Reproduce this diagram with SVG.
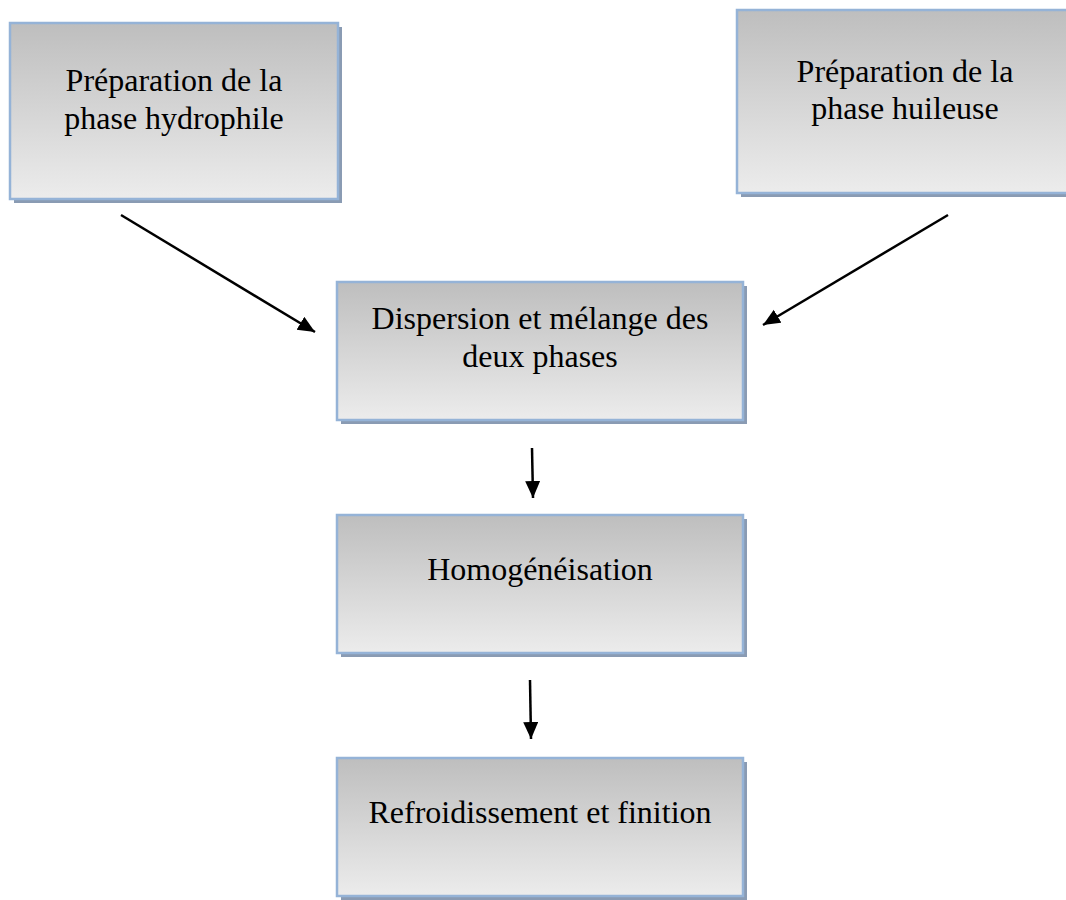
<svg xmlns="http://www.w3.org/2000/svg" width="1066" height="900" viewBox="0 0 1066 900">
  <style>
    .box { fill: url(#boxFill); stroke: #95b3d7; stroke-width: 2.5; }
    .shadow { fill: #8a9bb3; }
    .label { font-family: "Liberation Serif", "Times New Roman", serif; font-size: 32px; fill: #000; text-anchor: middle; }
    .link { stroke: #000; stroke-width: 2.5; fill: none; marker-end: url(#arrowHead); }
  </style>
  <defs>
    <linearGradient id="boxFill" x1="0" y1="0" x2="0" y2="1">
      <stop offset="0" stop-color="#bebebe"/>
      <stop offset="1" stop-color="#ececec"/>
    </linearGradient>
    <marker id="arrowHead" markerUnits="userSpaceOnUse" markerWidth="18" markerHeight="16" refX="17" refY="7.5" orient="auto">
      <path d="M0,0 L17,7.5 L0,15 Z" fill="#000"/>
    </marker>
  </defs>
  <rect width="1066" height="900" fill="#fff"/>

  <g id="hydrophile">
    <rect class="shadow" x="14" y="27" width="328" height="176"/>
    <rect class="box" x="10" y="23" width="328" height="176"/>
    <text class="label" x="174" y="91">Préparation de la</text>
    <text class="label" x="174" y="129">phase hydrophile</text>
  </g>

  <g id="huileuse">
    <rect class="shadow" x="741" y="14" width="336" height="183"/>
    <rect class="box" x="737" y="10" width="336" height="183"/>
    <text class="label" x="905" y="82">Préparation de la</text>
    <text class="label" x="905" y="119">phase huileuse</text>
  </g>

  <g id="dispersion">
    <rect class="shadow" x="341" y="286" width="406" height="138"/>
    <rect class="box" x="337" y="282" width="406" height="138"/>
    <text class="label" x="540" y="329">Dispersion et mélange des</text>
    <text class="label" x="540" y="367">deux phases</text>
  </g>

  <g id="homogeneisation">
    <rect class="shadow" x="341" y="519" width="406" height="138"/>
    <rect class="box" x="337" y="515" width="406" height="138"/>
    <text class="label" x="540" y="580">Homogénéisation</text>
  </g>

  <g id="refroidissement">
    <rect class="shadow" x="341" y="762" width="406" height="138"/>
    <rect class="box" x="337" y="758" width="406" height="138"/>
    <text class="label" x="540" y="823">Refroidissement et finition</text>
  </g>

  <g id="connectors">
    <line class="link" x1="121" y1="215" x2="315" y2="332"/>
    <line class="link" x1="948" y1="215" x2="763" y2="325"/>
    <line class="link" x1="532" y1="448" x2="533" y2="498"/>
    <line class="link" x1="530" y1="680" x2="531" y2="739"/>
  </g>
</svg>
